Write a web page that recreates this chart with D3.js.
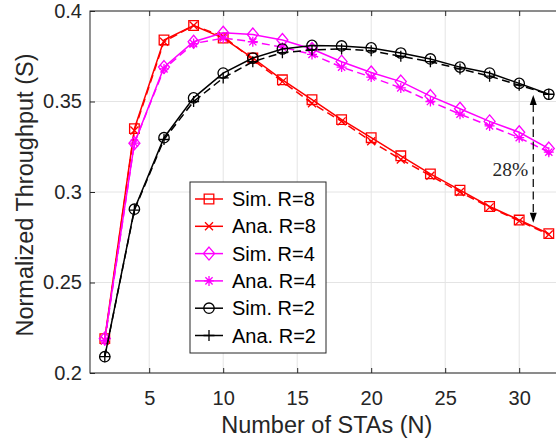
<!DOCTYPE html>
<html><head><meta charset="utf-8">
<script src="https://cdn.jsdelivr.net/npm/d3@7"></script>
<style>
  body { margin: 0; background: #fff; }
  svg { display: block; }
  text { font-family: "Liberation Sans", Arial, Helvetica, sans-serif; fill: #262626; }
  text.serif { font-family: "Liberation Serif", "Times New Roman", serif; }
</style>
</head><body>
<svg id="chart" width="556" height="440"></svg>
<script>
// Number of stations on the x axis
const stas = [2, 4, 6, 8, 10, 12, 14, 16, 18, 20, 22, 24, 26, 28, 30, 32];

// Normalized throughput, simulation and analysis, for each R
const simR8 = [0.219, 0.335, 0.384, 0.392, 0.385, 0.374, 0.362, 0.351, 0.340, 0.330, 0.320, 0.310, 0.301, 0.292, 0.2845, 0.277];
const anaR8 = [0.218, 0.334, 0.383, 0.392, 0.386, 0.373, 0.361, 0.349, 0.339, 0.328, 0.318, 0.309, 0.300, 0.2915, 0.284, 0.2765];
const simR4 = [0.219, 0.327, 0.369, 0.383, 0.388, 0.387, 0.384, 0.379, 0.372, 0.366, 0.361, 0.353, 0.346, 0.339, 0.333, 0.324];
const anaR4 = [0.218, 0.327, 0.368, 0.382, 0.385, 0.383, 0.380, 0.376, 0.369, 0.3635, 0.3575, 0.350, 0.343, 0.3365, 0.330, 0.322];
const simR2 = [0.209, 0.2905, 0.330, 0.352, 0.3657, 0.374, 0.379, 0.381, 0.3807, 0.3796, 0.3768, 0.3735, 0.369, 0.3657, 0.360, 0.354];
const anaR2 = [0.209, 0.290, 0.329, 0.350, 0.363, 0.372, 0.377, 0.3785, 0.379, 0.378, 0.375, 0.372, 0.368, 0.364, 0.359, 0.354];

const seriesNames = ["Sim. R=8", "Ana. R=8", "Sim. R=4", "Ana. R=4", "Sim. R=2", "Ana. R=2"];
const seriesValues = [simR8, anaR8, simR4, anaR4, simR2, anaR2];

// Axis ticks
const xTicks = [5, 10, 15, 20, 25, 30];
const yTicks = [0.2, 0.25, 0.3, 0.35, 0.4];
const yTickLabels = ["0.2", "0.25", "0.3", "0.35", "0.4"];

// Gap annotation between R=2 and R=8 at large N
const gapN = 30.95;
const gapEnds = [0.3536, 0.2830];
const gapLabel = "28%";
const gapLabelY = 0.309;

// ---- styles ----
const styles = [
  { color: "#ff0000", dash: null, marker: "square" },
  { color: "#ff0000", dash: "8,4.5", marker: "cross" },
  { color: "#ff00ff", dash: null, marker: "diamond" },
  { color: "#ff00ff", dash: "8,4.5", marker: "asterisk" },
  { color: "#000000", dash: null, marker: "circle" },
  { color: "#000000", dash: "8,4.5", marker: "plus" }
];

const markerPaths = {
  square: "M-4.8,-4.8H4.8V4.8H-4.8Z",
  cross: "M-4,-4L4,4M-4,4L4,-4",
  diamond: "M0,-6.5L5.5,0L0,6.5L-5.5,0Z",
  asterisk: "M-5,0H5M0,-5V5M-3.6,-3.6L3.6,3.6M-3.6,3.6L3.6,-3.6",
  plus: "M-5.5,0H5.5M0,-5.5V5.5"
};

function drawMarker(g, type, color) {
  if (type === "circle") {
    g.append("circle").attr("r", 5.2).attr("fill", "none")
      .attr("stroke", color).attr("stroke-width", 1.3);
  } else {
    g.append("path").attr("d", markerPaths[type]).attr("fill", "none")
      .attr("stroke", color).attr("stroke-width", 1.3);
  }
}

// ---- layout ----
const svg = d3.select("#chart");
const x = d3.scaleLinear().domain([1, 33]).range([90, 563.6]);
const y = d3.scaleLinear().domain([0.2, 0.4]).range([373, 11]);
const axisColor = "#262626";

// grid
const grid = svg.append("g").attr("stroke", "#e4e4e4").attr("stroke-width", 1);
grid.selectAll("line.gx").data(xTicks).join("line")
  .attr("x1", d => x(d)).attr("x2", d => x(d))
  .attr("y1", y.range()[0]).attr("y2", y.range()[1]);
grid.selectAll("line.gy").data(yTicks).join("line")
  .attr("x1", x.range()[0]).attr("x2", x.range()[1])
  .attr("y1", d => y(d)).attr("y2", d => y(d));

// series
const line = d3.line().x(d => x(d[0])).y(d => y(d[1]));
seriesValues.forEach((vals, i) => {
  const st = styles[i];
  const pts = stas.map((n, j) => [n, vals[j]]);
  const g = svg.append("g");
  g.append("path").attr("d", line(pts)).attr("fill", "none")
    .attr("stroke", st.color).attr("stroke-width", 1.5)
    .attr("stroke-dasharray", st.dash);
  g.selectAll("g.m").data(pts).join("g")
    .attr("transform", d => `translate(${x(d[0])},${y(d[1])})`)
    .each(function () { drawMarker(d3.select(this), st.marker, st.color); });
});

// axes
const xAxis = d3.axisBottom(x).tickValues(xTicks).tickSizeInner(-5).tickSizeOuter(0).tickPadding(18);
const gx = svg.append("g").attr("transform", `translate(0,${y.range()[0]})`).call(xAxis);
const xTop = d3.axisTop(x).tickValues(xTicks).tickSizeInner(-5).tickSizeOuter(0).tickFormat("");
const gxt = svg.append("g").attr("transform", `translate(0,${y.range()[1]})`).call(xTop);
const yAxis = d3.axisLeft(y).tickValues(yTicks).tickSizeInner(-5).tickSizeOuter(0).tickPadding(8)
  .tickFormat((d, i) => yTickLabels[i]);
const gy = svg.append("g").attr("transform", `translate(${x.range()[0]},0)`).call(yAxis);
[gx, gxt, gy].forEach(g => {
  g.select(".domain").remove();
  g.selectAll(".tick line").attr("stroke", axisColor);
  g.selectAll("text").attr("font-size", 20).attr("fill", axisColor)
    .attr("font-family", null);
});
// axes box
svg.append("rect")
  .attr("x", x.range()[0]).attr("y", y.range()[1])
  .attr("width", x.range()[1] - x.range()[0]).attr("height", y.range()[0] - y.range()[1])
  .attr("fill", "none").attr("stroke", axisColor).attr("stroke-width", 1);

// axis titles
svg.append("text").attr("x", (x.range()[0] + x.range()[1]) / 2).attr("y", 433)
  .attr("text-anchor", "middle").attr("font-size", 23.5).text("Number of STAs (N)");
svg.append("text").attr("transform", `translate(33,${(y.range()[0] + y.range()[1]) / 2 + 3}) rotate(-90)`)
  .attr("text-anchor", "middle").attr("font-size", 23.5).text("Normalized Throughput (S)");

// gap annotation
const ax = x(gapN);
const ann = svg.append("g");
ann.append("line").attr("x1", ax).attr("x2", ax)
  .attr("y1", y(gapEnds[0]) + 9).attr("y2", y(gapEnds[1]) - 9)
  .attr("stroke", "#000").attr("stroke-width", 1.2).attr("stroke-dasharray", "8,4.5");
ann.append("path")
  .attr("d", `M${ax},${y(gapEnds[0])}l-3.5,10h7Z`).attr("fill", "#000");
ann.append("path")
  .attr("d", `M${ax},${y(gapEnds[1])}l-3.5,-10h7Z`).attr("fill", "#000");
ann.append("text").attr("class", "serif").attr("x", ax - 5).attr("y", y(gapLabelY))
  .attr("text-anchor", "end").attr("font-size", 19.5).style("fill", "#262626").text(gapLabel);

// legend
const leg = svg.append("g").attr("transform", "translate(190,182)");
leg.append("rect").attr("width", 136).attr("height", 171)
  .attr("fill", "#fff").attr("stroke", axisColor).attr("stroke-width", 1);
seriesNames.forEach((name, i) => {
  const st = styles[i];
  const row = leg.append("g").attr("transform", `translate(0,${17 + i * 27.3})`);
  row.append("line").attr("x1", 5).attr("x2", 33).attr("stroke", st.color)
    .attr("stroke-width", 1.5);
  const m = row.append("g").attr("transform", "translate(19,0)");
  drawMarker(m, st.marker, st.color);
  row.append("text").attr("x", 42).attr("dy", "0.35em").attr("font-size", 20)
    .style("fill", "#000").text(name);
});
</script>
</body></html>
